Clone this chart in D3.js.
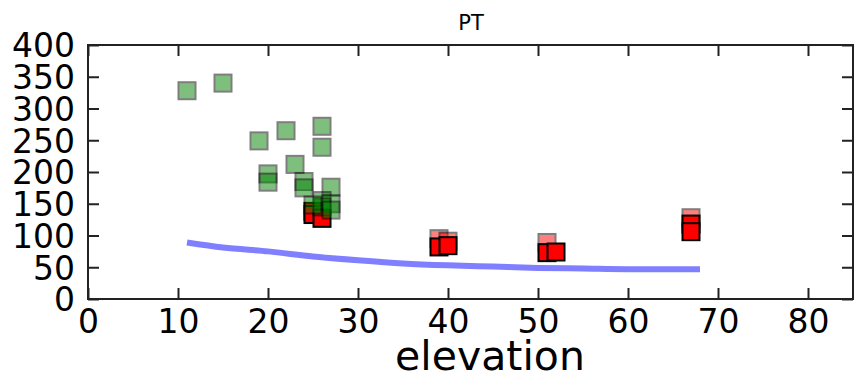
<!DOCTYPE html>
<html>
<head>
<meta charset="utf-8">
<script src="https://cdn.jsdelivr.net/npm/d3@7"></script>
<style>
  body { margin: 0; background: #fff; }
  text { font-family: "DejaVu Sans", sans-serif; }
</style>
</head>
<body>
<figure id="chart" style="margin:0"></figure>
<script>
// values
const greenX = [11, 15, 19, 22, 26, 26, 23, 20, 20, 24, 24, 27, 26, 27, 26, 27, 25];
const greenY = [328, 340, 249, 265, 272, 239, 212, 197, 184, 185, 175, 176, 155, 150, 145, 140, 148];

const redX = [25, 25, 26, 39, 40, 51, 52, 67, 67];
const redY = [138, 133, 127, 82, 84, 73, 74, 118, 106];

const pinkX = [39, 40, 51, 67];
const pinkY = [95, 91, 89, 128];

const lineX = [11, 15, 20, 25, 30, 35, 40, 45, 50, 55, 60, 65, 68];
const lineY = [89, 81, 75, 67, 61, 56, 53, 51, 49, 48, 47, 47, 47];

const xTicks = [0, 10, 20, 30, 40, 50, 60, 70, 80];
const yTicks = [0, 50, 100, 150, 200, 250, 300, 350, 400];

const width = 855, height = 380;
const margin = { top: 45, right: 2, bottom: 81, left: 88 };
const w = width - margin.left - margin.right;
const h = height - margin.top - margin.bottom;

const svg = d3.select('#chart')
  .append('svg')
  .attr('width', width)
  .attr('height', height);

const g = svg.append('g')
  .attr('transform', 'translate(' + margin.left + ',' + margin.top + ')');

const x = d3.scaleLinear().domain([0, 85]).range([0, w]);
const y = d3.scaleLinear().domain([0, 400]).range([h, 0]);

// fitted line
const line = d3.line().x(d => x(d[0])).y(d => y(d[1])).curve(d3.curveMonotoneX);
g.append('path')
  .datum(d3.zip(lineX, lineY))
  .attr('d', line)
  .attr('fill', 'none')
  .attr('stroke', '#0000ff')
  .attr('stroke-opacity', 0.5)
  .attr('stroke-width', 6);

const size = 17;
function squares(xs, ys, fill, opacity) {
  g.append('g').selectAll('rect')
    .data(d3.zip(xs, ys))
    .enter()
    .append('rect')
    .attr('x', d => x(d[0]) - size / 2)
    .attr('y', d => y(d[1]) - size / 2)
    .attr('width', size)
    .attr('height', size)
    .attr('fill', fill)
    .attr('stroke', '#000')
    .attr('stroke-width', 2)
    .attr('opacity', opacity);
}
squares(pinkX, pinkY, '#ff0000', 0.5);
squares(redX, redY, '#ff0000', 1);
squares(greenX, greenY, '#008000', 0.5);

// axes, ticks inside on all sides
const tl = 11;
g.append('g')
  .attr('transform', 'translate(0,' + h + ')')
  .call(d3.axisBottom(x).tickValues(xTicks).tickSizeInner(-tl).tickSizeOuter(0).tickPadding(11))
  .call(a => a.selectAll('text').attr('font-size', 33).attr('fill', '#000'));
g.append('g')
  .call(d3.axisTop(x).tickValues(xTicks).tickSizeInner(-tl).tickSizeOuter(0).tickFormat(''));
g.append('g')
  .call(d3.axisLeft(y).tickValues(yTicks).tickSizeInner(-tl).tickSizeOuter(0).tickPadding(13))
  .call(a => a.selectAll('text').attr('font-size', 33).attr('fill', '#000').attr('dy', '0.36em'));
g.append('g')
  .attr('transform', 'translate(' + w + ',0)')
  .call(d3.axisRight(y).tickValues(yTicks).tickSizeInner(-tl).tickSizeOuter(0).tickFormat(''));

g.selectAll('.domain').remove();
g.selectAll('.tick line').attr('stroke', '#222').attr('stroke-width', 2);

g.append('rect')
  .attr('width', w)
  .attr('height', h)
  .attr('fill', 'none')
  .attr('stroke', '#222')
  .attr('stroke-width', 2);

// labels
svg.append('text')
  .attr('x', 471)
  .attr('y', 30)
  .attr('text-anchor', 'middle')
  .attr('font-size', 21)
  .text('PT');

svg.append('text')
  .attr('x', 490)
  .attr('y', 370)
  .attr('text-anchor', 'middle')
  .attr('font-size', 41)
  .text('elevation');
</script>
</body>
</html>
